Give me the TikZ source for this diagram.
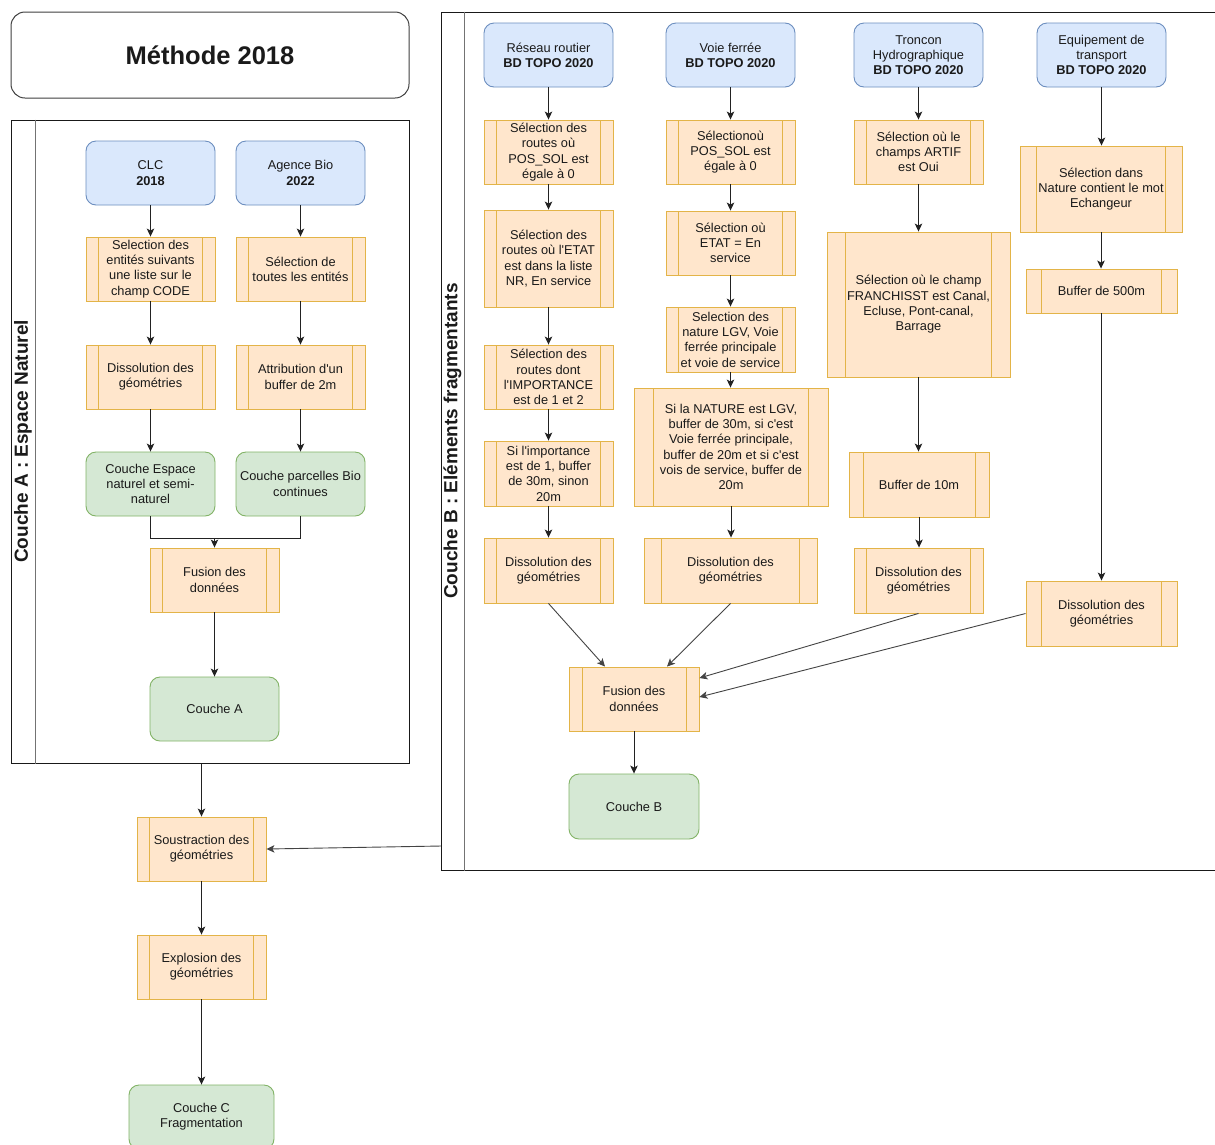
\documentclass[tikz,border=0pt]{standalone}
\usepackage{fontspec}
\setmainfont{Liberation Sans}[Ligatures=TeXOff]
\usetikzlibrary{arrows.meta,calc}
\definecolor{blueF}{HTML}{DAE8FC}
\definecolor{blueS}{HTML}{6C8EBF}
\definecolor{procF}{HTML}{FFE6CC}
\definecolor{procS}{HTML}{E3B448}
\definecolor{greenF}{HTML}{D5E8D4}
\definecolor{greenS}{HTML}{82B366}
\definecolor{inkC}{HTML}{1A1A1A}
\definecolor{lineC}{HTML}{222222}
\definecolor{diagC}{HTML}{444444}
\begin{document}
\begin{tikzpicture}[x=1pt,y=-1pt,
  base/.style={inner sep=0pt, align=center, text=inkC, font=\fontsize{12.8pt}{15.3pt}\selectfont, line width=0.9pt},
  sz/.style n args={2}{minimum width=#1pt, minimum height=#2pt},
  dbox/.style={base, rectangle, rounded corners=10pt, draw=blueS, fill=blueF},
  rbox/.style={base, rectangle, rounded corners=10pt, draw=greenS, fill=greenF},
  pbox/.style={base, rectangle, draw=procS, fill=procF, path picture={
    \draw[procS, line width=0.9pt]
      ($(path picture bounding box.north west)!0.1!(path picture bounding box.north east)$) --
      ($(path picture bounding box.south west)!0.1!(path picture bounding box.south east)$)
      ($(path picture bounding box.north west)!0.9!(path picture bounding box.north east)$) --
      ($(path picture bounding box.south west)!0.9!(path picture bounding box.south east)$);
  }},
  arr/.style={-{Stealth[length=8pt,width=7.5pt,inset=2pt]}, line width=0.9pt, draw=lineC},
  darr/.style={arr, draw=diagC},
  lane/.style={rectangle, draw=black!90, line width=1pt, inner sep=0pt},
  lanesep/.style={draw=black!55, line width=1.1pt},
  lanelabel/.style={rotate=90, inner sep=0pt, text=inkC, font=\bfseries\fontsize{19pt}{22pt}\selectfont}
]
\useasboundingbox (0,0) rectangle (1215,1144);
\fill[white] (0,0) rectangle (1215,1144);

% title
\node[base, rectangle, rounded corners=14pt, draw=black!75, line width=1pt, sz={398}{86},
      font=\bfseries\fontsize{25.5pt}{30pt}\selectfont] (title) at (210,55) {Méthode 2018};

% swimlanes
\node[lane, sz={398}{643}] (laneA) at (210,441.5) {};
\draw[lanesep] ([xshift=25pt]laneA.north west) -- ([xshift=25pt]laneA.south west);
\node[lanelabel] (labA) at ($(laneA.west)+(12.5,0)$) {Couche A : Espace Naturel};

\node[lane, sz={777}{858}] (laneB) at (829.5,441) {};
\draw[lanesep] ([xshift=24pt]laneB.north west) -- ([xshift=24pt]laneB.south west);
\node[lanelabel] (labB) at ($(laneB.west)+(12,0)$) {Couche B : Eléments fragmentants};

% lane A nodes
\node[dbox, sz={129}{64}] (clc) at (150.5,173) {CLC\\\textbf{2018}};
\node[dbox, sz={129}{64}] (bio) at (300.5,173) {Agence Bio\\\textbf{2022}};
\node[pbox, sz={129}{64}] (selA) at (150.5,269) {Selection des\\entités suivants\\une liste sur le\\champ CODE};
\node[pbox, sz={129}{64}] (selB) at (300.5,269) {Sélection de\\toutes les entités};
\node[pbox, sz={129}{64}] (disA) at (150.5,377) {Dissolution des\\géométries};
\node[pbox, sz={129}{64}] (attB) at (300.5,377) {Attribution d'un\\buffer de 2m};
\node[rbox, sz={129}{64}] (ceA) at (150.5,484) {Couche Espace\\naturel et semi-\\naturel};
\node[rbox, sz={129}{64}] (cpB) at (300.5,484) {Couche parcelles Bio\\continues};
\node[pbox, sz={129}{64}] (fusA) at (214.5,580) {Fusion des\\données};
\node[rbox, sz={129}{64}] (coA) at (214.5,709) {Couche A};

% bottom nodes
\node[pbox, sz={129}{64}] (sous) at (201.5,849) {Soustraction des\\géométries};
\node[pbox, sz={129}{64}] (expl) at (201.5,967) {Explosion des\\géométries};
\node[rbox, sz={145}{64}] (coC) at (201.5,1117) {Couche C\\Fragmentation};

% lane B column 1
\node[dbox, sz={129}{64}] (r0) at (548.5,55) {Réseau routier\\\textbf{BD TOPO 2020}};
\node[pbox, sz={129}{64}] (r1) at (548.5,152) {Sélection des\\routes où\\POS\_SOL est\\égale à 0};
\node[pbox, sz={129}{97}] (r2) at (548.5,258.5) {Sélection des\\routes où l'ETAT\\est dans la liste\\NR, En service};
\node[pbox, sz={129}{64}] (r3) at (548.5,377) {Sélection des\\routes dont\\l'IMPORTANCE\\est de 1 et 2};
\node[pbox, sz={129}{65}] (r4) at (548.5,473.5) {Si l'importance\\est de 1, buffer\\de 30m, sinon\\20m};
\node[pbox, sz={129}{65}] (r5) at (548.5,570.5) {Dissolution des\\géométries};

% column 2
\node[dbox, sz={129}{64}] (v0) at (730.5,55) {Voie ferrée\\\textbf{BD TOPO 2020}};
\node[pbox, sz={129}{64}] (v1) at (730.5,152) {Sélectionoù\\POS\_SOL est\\égale à 0};
\node[pbox, sz={129}{64}] (v2) at (730.5,243) {Sélection où\\ETAT = En\\service};
\node[pbox, sz={129}{65}] (v3) at (730.5,339.5) {Selection des\\nature LGV, Voie\\ferrée principale\\et voie de service};
\node[pbox, sz={194}{118}] (v4) at (731,447) {Si la NATURE est LGV,\\buffer de 30m, si c'est\\Voie ferrée principale,\\buffer de 20m et si c'est\\vois de service, buffer de\\20m};
\node[pbox, sz={173}{65}] (v5) at (730.5,570.5) {Dissolution des\\géométries};

% column 3
\node[dbox, sz={129}{64}] (t0) at (918.5,55) {Troncon\\Hydrographique\\\textbf{BD TOPO 2020}};
\node[pbox, sz={129}{64}] (t1) at (918.5,152) {Sélection où le\\champs ARTIF\\est Oui};
\node[pbox, sz={183}{145}] (t2) at (918.5,304.5) {Sélection où le champ\\FRANCHISST est Canal,\\Ecluse, Pont-canal,\\Barrage};
\node[pbox, sz={140}{65}] (t3) at (919,484.5) {Buffer de 10m};
\node[pbox, sz={129}{65}] (t4) at (918.5,580.5) {Dissolution des\\géométries};

% column 4
\node[dbox, sz={129}{64}] (e0) at (1101.5,55) {Equipement de\\transport\\\textbf{BD TOPO 2020}};
\node[pbox, sz={162}{86}] (e1) at (1101,189) {Sélection dans\\Nature contient le mot\\Echangeur};
\node[pbox, sz={151}{44}] (e2) at (1101.5,291) {Buffer de 500m};
\node[pbox, sz={151}{65}] (e3) at (1101.5,613.5) {Dissolution des\\géométries};

% fusion B
\node[pbox, sz={130}{64}] (fusB) at (634,699) {Fusion des\\données};
\node[rbox, sz={130}{65}] (coB) at (634,806.5) {Couche B};

% vertical connectors
\foreach \a/\b in {clc/selA, bio/selB, selA/disA, selB/attB, disA/ceA, attB/cpB, fusA/coA,
                   sous/expl, expl/coC,
                   r0/r1, r1/r2, r2/r3, r3/r4, r4/r5,
                   v0/v1, v1/v2, v2/v3, v3/v4, v4/v5,
                   t0/t1, t1/t2, t2/t3, t3/t4,
                   e0/e1, e1/e2, e2/e3, fusB/coB}
  \draw[arr] (\a.south) -- (\a.south |- \b.north);

% merge in lane A
\coordinate (jA) at (214.5,538);
\draw[lineC, line width=0.9pt] (ceA.south) |- (jA) -| (cpB.south);
\draw[arr] (jA) -- (fusA.north);

% lane A to soustraction
\draw[arr] (sous.north |- laneA.south) -- (sous.north);
\coordinate (bOut) at (441,846);
\draw[darr] (bOut) -- (sous.east);

% into fusion B
\draw[darr] (r5.south) -- ([xshift=-29pt]fusB.north);
\draw[darr] (v5.south) -- ([xshift=33pt]fusB.north);
\draw[darr] (t4.south) -- ([yshift=21pt]fusB.east);
\draw[darr] (e3.west) -- ([yshift=2pt]fusB.east);
\end{tikzpicture}
\end{document}
